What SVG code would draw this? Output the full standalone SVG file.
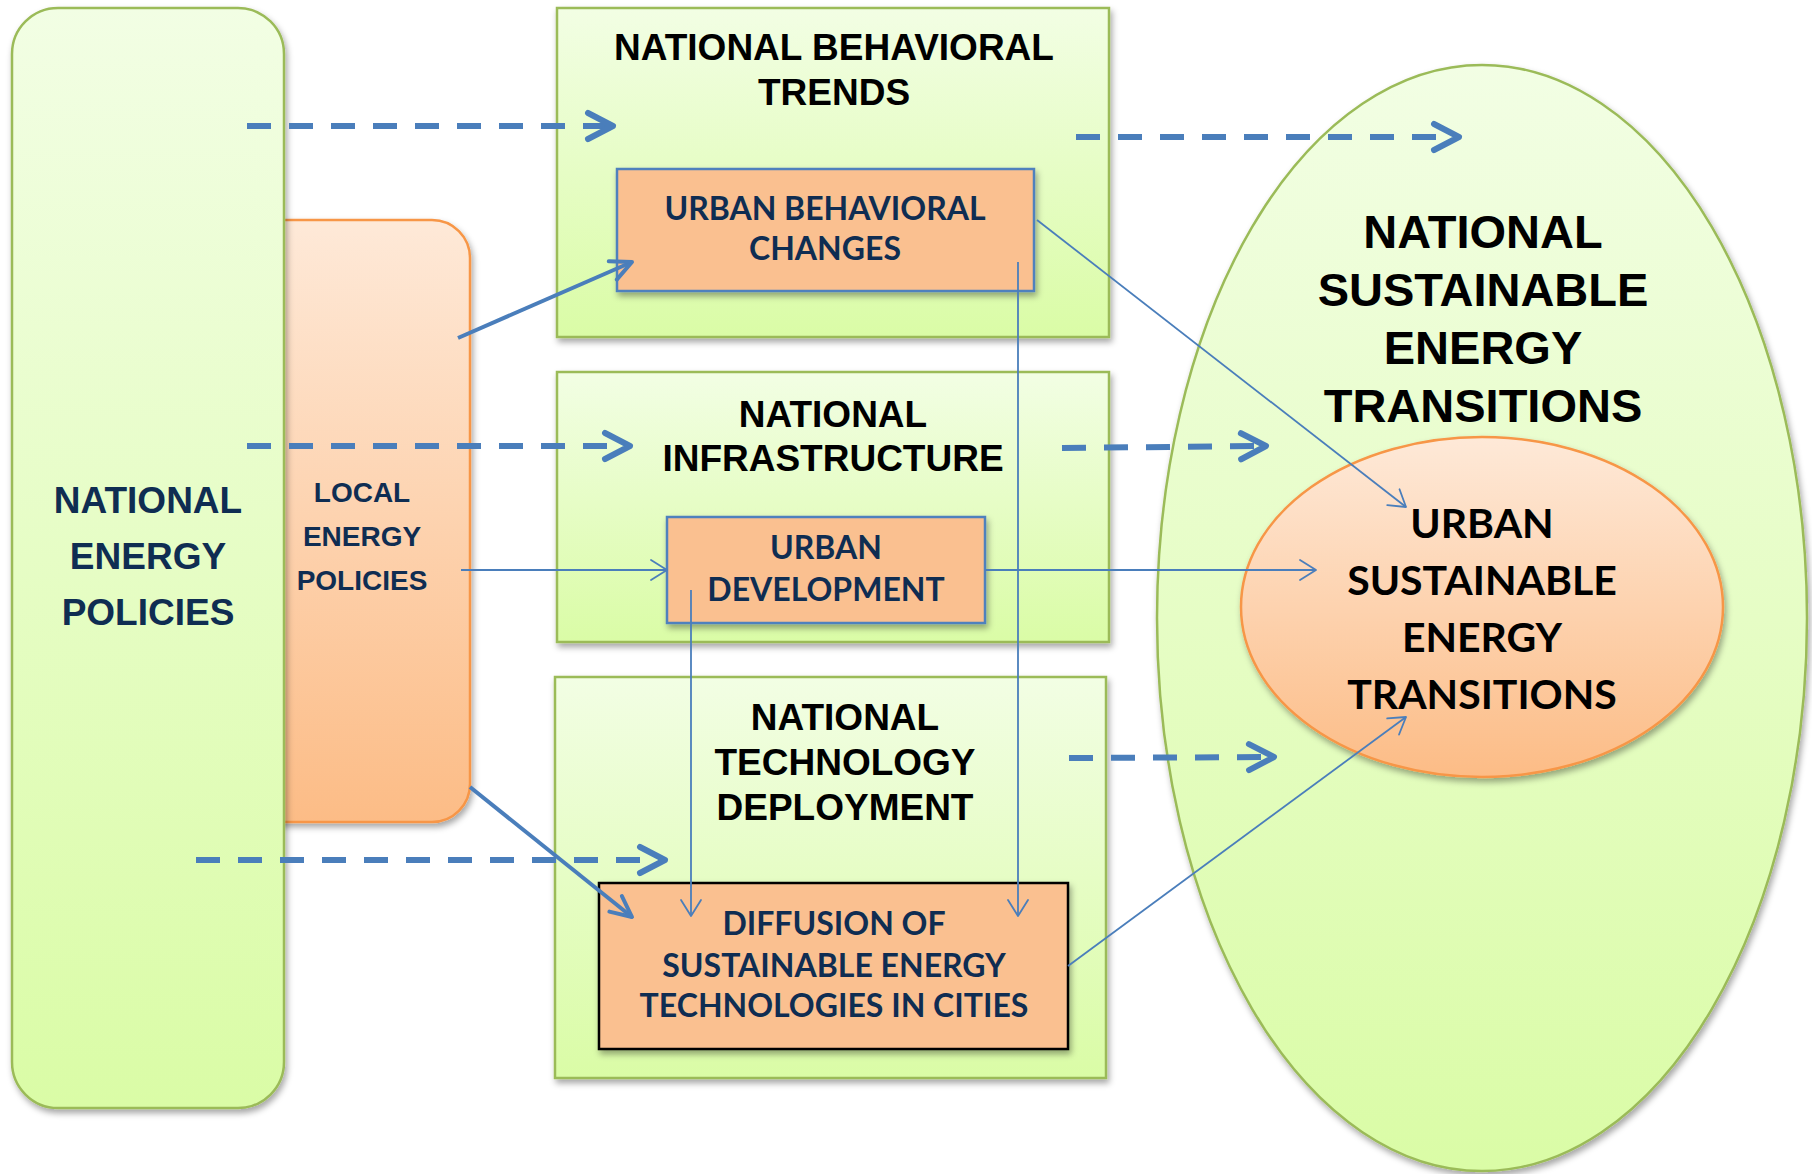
<svg xmlns="http://www.w3.org/2000/svg" width="1812" height="1174" viewBox="0 0 1812 1174">
  <defs>
    <linearGradient id="gGreen" x1="0" y1="0" x2="0" y2="1">
      <stop offset="0" stop-color="#F2FEE4"/>
      <stop offset="1" stop-color="#DAFCA6"/>
    </linearGradient>
    <linearGradient id="gOrange" x1="0" y1="0" x2="0" y2="1">
      <stop offset="0" stop-color="#FEE9D8"/>
      <stop offset="1" stop-color="#FCBC86"/>
    </linearGradient>
    <filter id="shadow" x="-10%" y="-10%" width="130%" height="130%">
      <feDropShadow dx="2" dy="4" stdDeviation="3" flood-color="#000" flood-opacity="0.35"/>
    </filter>
    <marker id="mDash" markerUnits="userSpaceOnUse" markerWidth="40" markerHeight="40" refX="0" refY="0" orient="auto" overflow="visible">
      <path d="M-25,-13 L0,0 L-25,13" class="head" stroke-width="6"/>
    </marker>
    <marker id="mThick" markerUnits="userSpaceOnUse" markerWidth="30" markerHeight="30" refX="0" refY="0" orient="auto" overflow="visible">
      <path d="M-21,-10 L0,0 L-21,10" class="head" stroke-width="4"/>
    </marker>
    <marker id="mThin" markerUnits="userSpaceOnUse" markerWidth="24" markerHeight="24" refX="0" refY="0" orient="auto" overflow="visible">
      <path d="M-16,-10 L0,0 L-16,10" class="head" stroke-width="1.8"/>
    </marker>
  </defs>
  <style>
    .green { fill: url(#gGreen); stroke: #9BBB59; stroke-width: 2.5; filter: url(#shadow); }
    .orange { fill: url(#gOrange); stroke: #F79646; stroke-width: 2.5; filter: url(#shadow); }
    .inner { fill: #FAC090; stroke: #4F81BD; stroke-width: 2.5; filter: url(#shadow); }
    .inner-dark { fill: #FAC090; stroke: #000; stroke-width: 2.5; filter: url(#shadow); }
    .head { fill: none; stroke: #4A7EBB; stroke-linecap: round; stroke-linejoin: round; stroke-dasharray: none; }
    .dash { fill: none; stroke: #4A7EBB; stroke-width: 6; stroke-dasharray: 24 18; marker-end: url(#mDash); }
    .thick { fill: none; stroke: #4A7EBB; stroke-width: 4; marker-end: url(#mThick); }
    .thin { fill: none; stroke: #4A7EBB; stroke-width: 1.8; marker-end: url(#mThin); }
    .title { font-family: "Liberation Sans", Arial, sans-serif; font-weight: bold; font-size: 37px; fill: #000; text-anchor: middle; }
    .big { font-family: "Liberation Sans", Arial, sans-serif; font-weight: bold; font-size: 47px; fill: #000; text-anchor: middle; }
    .navy { font-family: "Liberation Sans", Arial, sans-serif; font-weight: bold; fill: #0F2D52; text-anchor: middle; }
    .label { font-family: Lato, "Open Sans", sans-serif; font-weight: bold; font-size: 32px; fill: #0F2D52; text-anchor: middle; }
    .urban { font-family: Lato, "Open Sans", sans-serif; font-weight: bold; font-size: 41px; fill: #000; text-anchor: middle; }
  </style>

  <rect width="1812" height="1174" fill="#FFFFFF"/>

  <!-- local energy policies (sits behind the national column) -->
  <g id="local-energy-policies">
    <rect class="orange" x="240" y="220" width="230" height="602" rx="38" ry="38"/>
    <text class="navy" font-size="28" x="362" y="502">LOCAL</text>
    <text class="navy" font-size="28" x="362" y="546">ENERGY</text>
    <text class="navy" font-size="28" x="362" y="590">POLICIES</text>
  </g>

  <!-- national energy policies -->
  <g id="national-energy-policies">
    <rect class="green" x="12" y="8" width="272" height="1100" rx="46" ry="46"/>
    <text class="navy" font-size="37" x="148" y="513">NATIONAL</text>
    <text class="navy" font-size="37" x="148" y="569">ENERGY</text>
    <text class="navy" font-size="37" x="148" y="625">POLICIES</text>
  </g>

  <!-- national behavioral trends -->
  <g id="national-behavioral-trends">
    <rect class="green" x="557" y="8" width="552" height="329"/>
    <text class="title" x="834" y="60">NATIONAL BEHAVIORAL</text>
    <text class="title" x="834" y="105">TRENDS</text>
  </g>
  <g id="urban-behavioral-changes">
    <rect class="inner" x="617" y="169" width="417" height="122"/>
    <text class="label" x="825" y="220">URBAN BEHAVIORAL</text>
    <text class="label" x="825" y="260">CHANGES</text>
  </g>

  <!-- national infrastructure -->
  <g id="national-infrastructure">
    <rect class="green" x="557" y="372" width="552" height="270"/>
    <text class="title" x="833" y="427">NATIONAL</text>
    <text class="title" x="833" y="471">INFRASTRUCTURE</text>
  </g>
  <g id="urban-development">
    <rect class="inner" x="667" y="517" width="318" height="106"/>
    <text class="label" x="826" y="559">URBAN</text>
    <text class="label" x="826" y="601">DEVELOPMENT</text>
  </g>

  <!-- national technology deployment -->
  <g id="national-technology-deployment">
    <rect class="green" x="555" y="677" width="551" height="401"/>
    <text class="title" x="845" y="730">NATIONAL</text>
    <text class="title" x="845" y="775">TECHNOLOGY</text>
    <text class="title" x="845" y="820">DEPLOYMENT</text>
  </g>
  <g id="diffusion-of-technologies">
    <rect class="inner-dark" x="599" y="883" width="469" height="166"/>
    <text class="label" x="834" y="935">DIFFUSION OF</text>
    <text class="label" x="834" y="977">SUSTAINABLE ENERGY</text>
    <text class="label" x="834" y="1017">TECHNOLOGIES IN CITIES</text>
  </g>

  <!-- national sustainable energy transitions -->
  <g id="national-transitions">
    <ellipse class="green" cx="1482" cy="618" rx="325" ry="553"/>
    <text class="big" x="1483" y="248">NATIONAL</text>
    <text class="big" x="1483" y="306">SUSTAINABLE</text>
    <text class="big" x="1483" y="364">ENERGY</text>
    <text class="big" x="1483" y="422">TRANSITIONS</text>
  </g>
  <g id="urban-transitions">
    <ellipse class="orange" cx="1482" cy="607" rx="241" ry="170"/>
    <text class="urban" x="1482" y="538">URBAN</text>
    <text class="urban" x="1482" y="595">SUSTAINABLE</text>
    <text class="urban" x="1482" y="652">ENERGY</text>
    <text class="urban" x="1482" y="709">TRANSITIONS</text>
  </g>

  <!-- connectors -->
  <g id="connectors">
    <path class="dash" d="M247,126 L613,126"/>
    <path class="dash" d="M1076,137 L1459,137"/>
    <path class="dash" d="M247,446 L630,446"/>
    <path class="dash" d="M1062,448 L1266,446"/>
    <path class="dash" d="M196,860 L665,860"/>
    <path class="dash" d="M1069,758 L1274,757"/>

    <path class="thick" d="M458,338 L632,262"/>
    <path class="thick" d="M470,787 L632,917"/>

    <path class="thin" d="M461,570 L667,570"/>
    <path class="thin" d="M985,570 L1316,570"/>
    <path class="thin" d="M1037,220 L1406,507"/>
    <path class="thin" d="M1068,966 L1406,717"/>
    <path class="thin" d="M1018,262 L1018,916"/>
    <path class="thin" d="M691,590 L691,916"/>
  </g>
</svg>
